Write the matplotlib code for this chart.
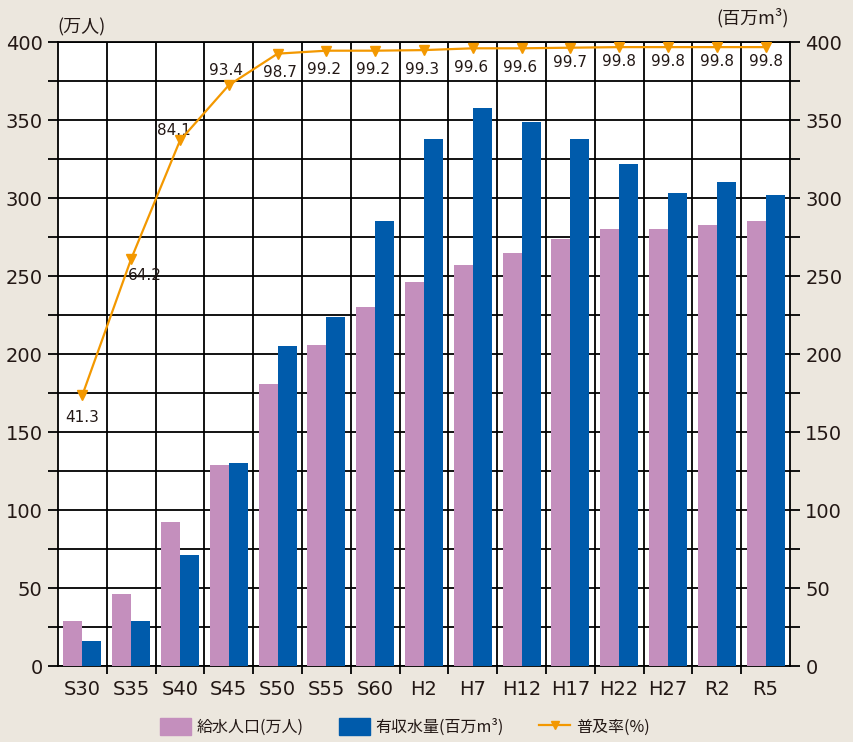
import matplotlib
matplotlib.use("Agg")
import matplotlib.pyplot as plt
import numpy as np
from matplotlib.lines import Line2D
from matplotlib.patches import Patch

plt.rcParams['font.family'] = ['Noto Sans CJK JP', 'DejaVu Sans']

categories = ["S30", "S35", "S40", "S45", "S50", "S55", "S60", "H2", "H7",
              "H12", "H17", "H22", "H27", "R2", "R5"]
population = [29, 46, 92, 129, 181, 206, 230, 246, 257, 265, 274, 280, 280, 283, 285]
water_volume = [16, 29, 71, 130, 205, 224, 285, 338, 358, 349, 338, 322, 303, 310, 302]
coverage = [41.3, 64.2, 84.1, 93.4, 98.7, 99.2, 99.2, 99.3, 99.6, 99.6, 99.7,
            99.8, 99.8, 99.8, 99.8]
left_ticks = list(range(0, 401, 25))

PINK = "#c48fbd"
BLUE = "#005bab"
ORANGE = "#f39800"
BG = "#ece7de"
TXT = "#231815"
NUMFONT = ['DejaVu Sans']

fig = plt.figure(figsize=(8.54, 7.42), dpi=100, facecolor=BG)
ax = fig.add_axes([58/854, 1-666/742, (790-58)/854, (666-42)/742])
ax.set_facecolor("white")

x = np.arange(len(categories))
w = 0.39
ax.bar(x - w/2, population, width=w, color=PINK, zorder=3)
ax.bar(x + w/2, water_volume, width=w, color=BLUE, zorder=3)

ax.set_xlim(-0.5, len(categories) - 0.5)
ax.set_ylim(0, 400)
ax.set_yticks(left_ticks)
ax.set_yticklabels([str(v) if v % 50 == 0 else "" for v in left_ticks], family=NUMFONT)
ax.set_xticks(x)
ax.set_xticklabels(categories, family=NUMFONT)
ax.set_xticks(np.arange(0.5, len(categories) - 1, 1), minor=True)
ax.tick_params(axis='x', which='major', length=0, pad=10, labelsize=14, labelcolor=TXT)
ax.tick_params(axis='x', which='minor', length=6, width=1.3, direction='out', color='black')
ax.tick_params(axis='y', which='major', length=7, width=1.3, direction='out',
               labelsize=14, labelcolor=TXT, pad=4, left=True, right=True)
ax.grid(axis='y', which='major', color='black', linewidth=1.3, zorder=1)
ax.grid(axis='x', which='minor', color='black', linewidth=1.3, zorder=1)
ax.set_axisbelow(True)
for s in ax.spines.values():
    s.set_color('black')
    s.set_linewidth(1.3)

ax2 = ax.twinx()
ax2.set_ylim(0, 400)
ax2.set_yticks(left_ticks)
ax2.set_yticklabels([str(v) if v % 50 == 0 else "" for v in left_ticks], family=NUMFONT)
ax2.tick_params(axis='y', length=7, width=1.3, direction='out', labelsize=14,
                labelcolor=TXT, pad=4)
for s in ax2.spines.values():
    s.set_visible(False)

ax3 = ax.twinx()
ax3.set_ylim(-4.27, 100.66)
ax3.axis('off')
ax3.plot(x, coverage, color=ORANGE, linewidth=1.6, marker='v', markersize=7,
         markeredgecolor=ORANGE, markerfacecolor=ORANGE, zorder=5)
offsets = [(0, -22), (14, -17), (-6, 10), (-3, 15), (2, -19), (-2, -19), (-2, -19),
           (-2, -19), (-2, -19), (-2, -19), (0, -15), (0, -14), (0, -14), (0, -14), (0, -14)]
for xi, v, (dx, dy) in zip(x, coverage, offsets):
    ax3.annotate(f"{v:.1f}", (xi, v), xytext=(dx, dy), textcoords='offset pixels',
                 ha='center', va='center', fontsize=11, color=TXT, family=NUMFONT)

fig.text(57/854, 1-27/742, "(万人)", ha='left', va='center', fontsize=13, color=TXT)
fig.text(789/854, 1-18/742, "(百万m³)", ha='right', va='center', fontsize=13, color=TXT)

handles = [Patch(color=PINK), Patch(color=BLUE),
           Line2D([0], [0], color=ORANGE, linewidth=1.6, marker='v', markersize=6)]
labels = ["給水人口(万人)", "有収水量(百万m³)", "普及率(%)"]
fig.legend(handles, labels, loc='center', bbox_to_anchor=(405/854, 1-727/742), ncol=3,
           frameon=False, fontsize=11.5, handlelength=1.95, handleheight=1.2,
           columnspacing=2.2, handletextpad=0.35, labelcolor=TXT)

fig.savefig("out.png", dpi=100, facecolor=BG)
